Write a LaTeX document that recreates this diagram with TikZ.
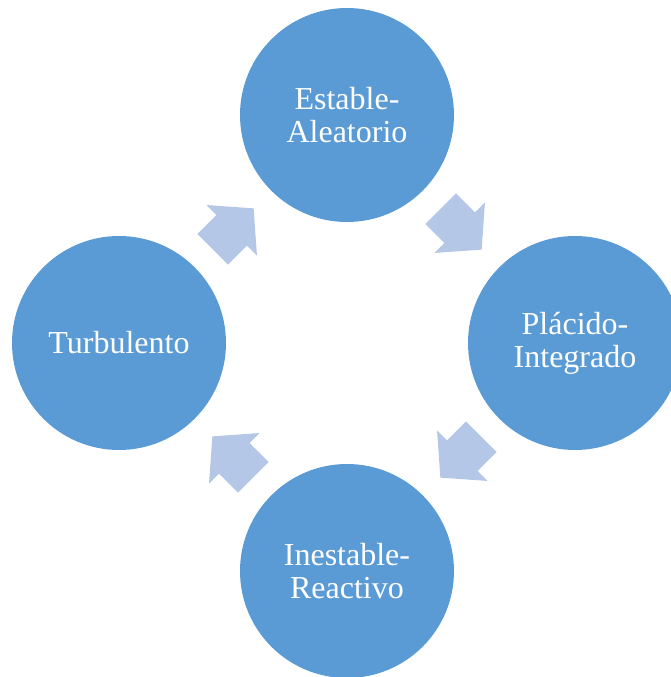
\documentclass[tikz,border=0pt]{standalone}
\usepackage{fontspec}
\setmainfont{Liberation Serif}
\usepackage{xcolor}
\usetikzlibrary{shapes.arrows}
\usetikzlibrary{calc}

\definecolor{stageblue}{HTML}{5B9BD5}
\definecolor{arrowblue}{HTML}{B4C7E7}

\begin{document}
\begin{tikzpicture}[x=1pt,y=1pt]
\tikzset{stage/.style={circle,fill=stageblue,minimum size=214pt,inner sep=0pt,align=center,text=white,font=\fontsize{32}{33}\selectfont}}
\tikzset{cyclearrow/.style={single arrow,fill=arrowblue,inner xsep=0pt,inner ysep=21.5pt,minimum height=58pt,single arrow head extend=14pt,single arrow tip angle=98,anchor=tail}}
\useasboundingbox (-347,-334) rectangle (323,343);
\node[stage](est) at (0,228) {Estable-\\Aleatorio};
\node[stage](pla) at (228,0) {Plácido-\\Integrado};
\node[stage](ine) at (0,-228) {Inestable-\\Reactivo};
\node[stage](tur) at (-228,0) {Turbulento};
% flechas del ciclo
\node[cyclearrow,rotate=45](a) at ($(tur)!0.5!(est)!29pt!(tur)$) {};
\node[cyclearrow,rotate=-45](b) at ($(est)!0.5!(pla)!29pt!(est)$) {};
\node[cyclearrow,rotate=-135](c) at ($(pla)!0.5!(ine)!29pt!(pla)$) {};
\node[cyclearrow,rotate=135](d) at ($(ine)!0.5!(tur)!29pt!(ine)$) {};
\end{tikzpicture}
\end{document}
